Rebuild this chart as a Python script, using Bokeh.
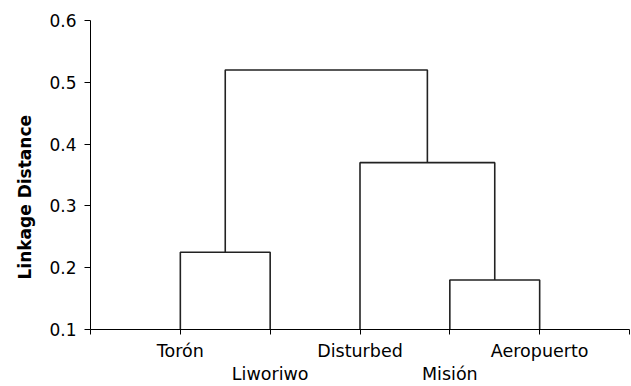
from bokeh.plotting import figure
from bokeh.models import Range1d, FixedTicker, LinearAxis, Title
from bokeh.embed import file_html
from bokeh.resources import INLINE

# ---- data ----
leaves = ["Torón", "Liworiwo", "Disturbed", "Misión", "Aeropuerto"]
leaf_pos = [1, 2, 3, 4, 5]
label_row = [0, 1, 0, 1, 0]          # staggered label rows
base_height = 0.1
# merges: cluster ids 0..4 are leaves, each merge creates id 5, 6, 7, 8
merge_left = [0, 3, 2, 5]
merge_right = [1, 4, 6, 7]
merge_height = [0.225, 0.18, 0.37, 0.52]
y_ticks = [0.1, 0.2, 0.3, 0.4, 0.5, 0.6]
y_tick_labels = ["0.1", "0.2", "0.3", "0.4", "0.5", "0.6"]
x_ticks = [0, 1, 2, 3, 4, 5, 6]
y_title = "Linkage Distance"

# ---- build dendrogram U-shapes ----
cx = list(leaf_pos)
ch = [base_height] * len(leaves)
xs, ys = [], []
for l, r, h in zip(merge_left, merge_right, merge_height):
    xs.append([cx[l], cx[l], cx[r], cx[r]])
    ys.append([ch[l], h, h, ch[r]])
    cx.append((cx[l] + cx[r]) / 2)
    ch.append(h)

FONT = "DejaVu Sans"
W, H = 631, 386

p = figure(width=W, height=H, output_backend="svg", toolbar_location=None,
           x_range=Range1d(x_ticks[0], x_ticks[-1]), y_range=Range1d(y_ticks[0], y_ticks[-1]),
           min_border_left=89, min_border_right=2,
           min_border_top=20, min_border_bottom=56, x_axis_location=None)
p.outline_line_color = None
p.xgrid.visible = False
p.ygrid.visible = False
p.background_fill_color = "white"
p.border_fill_color = "white"

p.multi_line(xs, ys, line_color="#222222", line_width=1.6)

# y axis
p.yaxis.ticker = FixedTicker(ticks=y_ticks)
p.yaxis.major_label_overrides = {t: s for t, s in zip(y_ticks, y_tick_labels)}
p.yaxis.major_label_text_font = FONT
p.yaxis.major_label_text_font_size = "17px"
p.yaxis.major_label_text_color = "black"
p.yaxis.major_tick_in = 0
p.yaxis.major_tick_out = 6
p.yaxis.minor_tick_line_color = None
p.yaxis.major_label_standoff = 8
p.yaxis.axis_line_color = "black"
p.yaxis.major_tick_line_color = "black"

# x axes: upper row labels + all tick marks, lower row labels
row0 = [x for x, r in zip(leaf_pos, label_row) if r == 0]
row1 = [x for x, r in zip(leaf_pos, label_row) if r == 1]
names = dict(zip(leaf_pos, leaves))
tick_only = [t for t in x_ticks if t not in row0]

ax0 = LinearAxis(ticker=FixedTicker(ticks=row0, minor_ticks=tick_only),
                 major_label_overrides={t: names[t] for t in row0},
                 major_label_text_font=FONT, major_label_text_font_size="17.5px",
                 major_label_text_color="black", major_label_standoff=6,
                 major_tick_in=0, major_tick_out=5, minor_tick_in=0, minor_tick_out=5,
                 axis_line_color="black", major_tick_line_color="black",
                 minor_tick_line_color="black")
ax1 = LinearAxis(ticker=FixedTicker(ticks=row1),
                 major_label_overrides={t: names[t] for t in row1},
                 major_label_text_font=FONT, major_label_text_font_size="17.5px",
                 major_label_text_color="black", major_label_standoff=0,
                 major_tick_in=0, major_tick_out=0,
                 axis_line_color=None, major_tick_line_color=None,
                 minor_tick_line_color=None)
p.add_layout(ax0, "below")
p.add_layout(ax1, "below")

# y title
p.add_layout(Title(text=y_title, align="left", offset=50, standoff=24,
                   text_font=FONT, text_font_style="bold", text_font_size="17px",
                   text_color="black"), "left")

open("out.html", "w").write(file_html(p, INLINE))
